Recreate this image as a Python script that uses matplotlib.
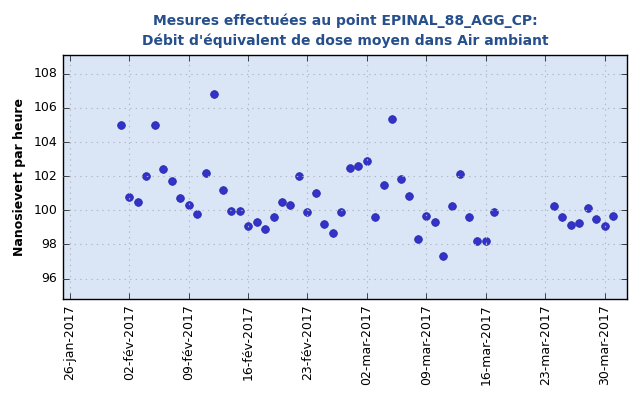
import numpy as np
import pandas as pd
import matplotlib
matplotlib.use('Agg')
import matplotlib.pyplot as plt
import matplotlib.dates as mdates
from matplotlib.ticker import FuncFormatter

# daily measurements, two continuous periods
dates = list(pd.date_range('2017-02-01', '2017-03-17')) + list(pd.date_range('2017-03-24', '2017-03-31'))
values = [105.0, 100.8, 100.5, 102.0, 105.0, 102.4, 101.7, 100.7, 100.3, 99.8,
          102.2, 106.8, 101.2, 99.95, 99.95, 99.1, 99.3, 98.9, 99.6, 100.5,
          100.3, 102.0, 99.9, 101.0, 99.2, 98.65, 99.9, 102.5, 102.6, 102.9,
          99.6, 101.5, 105.35, 101.85, 100.85, 98.3, 99.65, 99.3, 97.3, 100.25,
          102.15, 99.6, 98.2, 98.2, 99.9,
          100.25, 99.6, 99.15, 99.25, 100.15, 99.5, 99.1, 99.65]

mois = ['jan', 'fév', 'mar', 'avr', 'mai', 'juin', 'juil', 'aoû', 'sep', 'oct', 'nov', 'déc']

def fmt_date(x, pos):
    d = mdates.num2date(x)
    return '%02d-%s-%d' % (d.day, mois[d.month - 1], d.year)

plt.style.use('classic')
fig = plt.figure(figsize=(6.4, 4.0), dpi=100)
fig.patch.set_facecolor('white')
ax = fig.add_axes([0.098, 0.2525, 0.882, 0.61])
ax.set_facecolor('#dae6f6')

ax.plot(dates, values, 'o', color='#3333cc', markeredgecolor='#2828aa',
        markersize=5.5, markeredgewidth=0.6)

ax.set_xlim(pd.Timestamp('2017-01-25 04:00'), pd.Timestamp('2017-04-01 16:00'))
ax.set_ylim(94.8, 109.1)
ax.set_yticks([96, 98, 100, 102, 104, 106, 108])
ax.set_xticks([pd.Timestamp('2017-01-26') + pd.Timedelta(days=7 * i) for i in range(10)])
ax.xaxis.set_major_formatter(FuncFormatter(fmt_date))
plt.setp(ax.get_xticklabels(), rotation=90, fontsize=9)
plt.setp(ax.get_yticklabels(), fontsize=9)
ax.grid(True, linestyle=':', color='#b0b8c8', linewidth=0.8)
ax.tick_params(direction='in', length=4)

ax.set_ylabel('Nanosievert par heure', fontsize=9, fontweight='bold')
ax.set_title("Mesures effectuées au point EPINAL_88_AGG_CP:\nDébit d'équivalent de dose moyen dans Air ambiant",
             fontsize=10, fontweight='bold', color='#264f8c', y=1.012, linespacing=1.5)

fig.savefig('out.png', dpi=100)
